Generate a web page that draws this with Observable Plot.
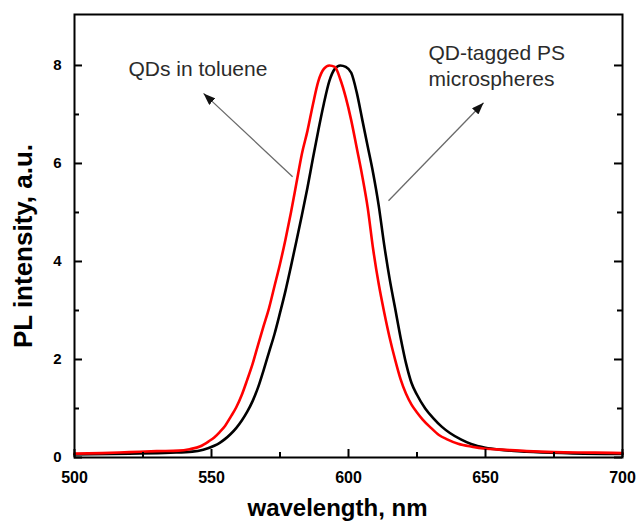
<!DOCTYPE html>
<html><head><meta charset="utf-8">
<script src="https://cdn.jsdelivr.net/npm/d3@7"></script>
<script src="https://cdn.jsdelivr.net/npm/@observablehq/plot@0.6"></script>
<style>body{margin:0;background:#fff;}</style>
</head><body><div id="chart"></div>
<script>
// Series: QDs in toluene (red)
const wlToluene = [500,510,520,530,538,542,546,549,551,553,555,557,559,561,563,565,567,569,571,573,575,577,579,581,583,585,587,589,591,593,595,597,599,601,603,605,607,609,611,613,615,617,619,621,623,625,627,630,633,636,640,645,650,656,665,675,690,700];
const plToluene = [0.08,0.09,0.11,0.13,0.14,0.17,0.23,0.33,0.41,0.52,0.65,0.83,1.02,1.27,1.58,1.91,2.3,2.68,3.05,3.5,3.95,4.45,5.0,5.6,6.2,6.66,7.2,7.68,7.93,8.0,7.97,7.72,7.35,6.88,6.32,5.75,5.1,4.25,3.55,2.97,2.45,2.0,1.6,1.3,1.08,0.92,0.78,0.61,0.46,0.37,0.28,0.22,0.18,0.16,0.13,0.11,0.1,0.09];
// Series: QD-tagged PS microspheres (black)
const wlSpheres = [500,520,535,543,547,551,553,555,557,559,561,563,565,567,569,571,573,575,577,579,581,583,585,587,589,591,593,595,597,599,601,603,605,607,609,611,613,615,617,619,621,623,625,628,631,634,637,641,645,650,655,665,680,700];
const plSpheres = [0.06,0.08,0.1,0.12,0.16,0.24,0.3,0.38,0.48,0.6,0.75,0.93,1.15,1.43,1.78,2.15,2.52,2.95,3.4,3.9,4.42,4.95,5.5,6.1,6.68,7.22,7.68,7.93,8.0,7.97,7.85,7.45,6.9,6.35,5.8,5.15,4.35,3.65,3.05,2.45,1.92,1.52,1.28,1.0,0.8,0.63,0.5,0.37,0.27,0.2,0.16,0.12,0.09,0.07];

const xMajorTicks = [500,550,600,650,700];
const xMinorTicks = [525,575,625,675];
const yMajorTicks = [0,2,4,6,8];
const yMinorTicks = [1,3,5,7];
const xTitle = "wavelength, nm";
const yTitle = "PL intensity, a.u.";
const labelToluene = "QDs in toluene";
const labelSpheres = "QD-tagged PS\nmicrospheres";

const toluene = wlToluene.map((w,i)=>({wl:w, pl:plToluene[i]}));
const spheres = wlSpheres.map((w,i)=>({wl:w, pl:plSpheres[i]}));

const annotations = [
  {x:519.7, y:7.78, text: labelToluene},
  {x:629.2, y:7.59, text: labelSpheres}
];
const arrows = [
  {x1:579.6, y1:5.73, x2:547.1, y2:7.43},
  {x1:614.6, y1:5.24, x2:649.3, y2:7.24}
];

// layout
const W = 636, H = 521, mL = 74, mR = 14, mT = 14, mB = 64;
const xDomain = [500, 700], yDomain = [0, 9.04];
// convert a tick length in pixels into data units along each axis
const pxX = (W - mL - mR) / (xDomain[1] - xDomain[0]);
const pxY = (H - mT - mB) / (yDomain[1] - yDomain[0]);
const lenX = px => px / pxX;
const lenY = px => px / pxY;
const tickStroke = {stroke:"#000", strokeWidth:2};

const svg = Plot.plot({
  width: W, height: H,
  marginLeft: mL, marginRight: mR, marginTop: mT, marginBottom: mB,
  style: {fontFamily: "'Liberation Sans', Arial, sans-serif", background: "#fff", color: "#000"},
  x: {domain: xDomain, axis: null},
  y: {domain: yDomain, axis: null},
  marks: [
    Plot.line(spheres, {x:"wl", y:"pl", stroke:"#000", strokeWidth:2.6, curve:"monotone-x"}),
    Plot.line(toluene, {x:"wl", y:"pl", stroke:"#ff0000", strokeWidth:2.6, curve:"monotone-x"}),
    Plot.frame({stroke:"#000", strokeWidth:2}),
    Plot.axisX(xMajorTicks, {anchor:"bottom", tickSize:0, tickPadding:14, fontSize:16, fontWeight:"bold", label:null}),
    Plot.axisY(yMajorTicks, {anchor:"left", tickSize:0, tickPadding:13, fontSize:15, fontWeight:"bold", label:null}),
    Plot.text([xTitle], {frameAnchor:"bottom", text:d=>d, dx:-11, dy:58, lineAnchor:"bottom", fontSize:24, fontWeight:"bold"}),
    Plot.text([yTitle], {frameAnchor:"left", text:d=>d, rotate:-90, textAnchor:"middle", lineAnchor:"middle", dx:-51, dy:10, fontSize:26, fontWeight:"bold"}),
    Plot.link(arrows, {x1:"x1", y1:"y1", x2:"x2", y2:"y2", stroke:"#6a6a6a", strokeWidth:1.3}),
    Plot.text(annotations, {x:"x", y:"y", text:"text", textAnchor:"start", lineAnchor:"bottom", fontSize:21, fill:"#2b2b2b", lineHeight:1.2}),
    // inward tick marks, drawn last
    Plot.ruleX(xMajorTicks, {x:d=>d, y1:yDomain[0], y2:yDomain[0]+lenY(8), ...tickStroke}),
    Plot.ruleX(xMinorTicks, {x:d=>d, y1:yDomain[0], y2:yDomain[0]+lenY(5), ...tickStroke}),
    Plot.ruleY(yMajorTicks, {y:d=>d, x1:xDomain[0], x2:xDomain[0]+lenX(8), ...tickStroke}),
    Plot.ruleY(yMinorTicks, {y:d=>d, x1:xDomain[0], x2:xDomain[0]+lenX(5), ...tickStroke}),
    Plot.ruleY(yMajorTicks, {y:d=>d, x1:xDomain[1]-lenX(8), x2:xDomain[1], ...tickStroke}),
    Plot.ruleY(yMinorTicks, {y:d=>d, x1:xDomain[1]-lenX(5), x2:xDomain[1], ...tickStroke})
  ]
});

const sel = d3.select(svg);
const defs = sel.append("defs");
defs.append("marker").attr("id","ah").attr("viewBox","0 0 12 9")
  .attr("refX",12).attr("refY",4.5).attr("markerWidth",12).attr("markerHeight",9)
  .attr("markerUnits","userSpaceOnUse").attr("orient","auto")
  .append("path").attr("d","M0,0L12,4.5L0,9Z").attr("fill","#111");
sel.selectAll('g[aria-label="link"] path').attr("marker-end","url(#ah)");

document.getElementById("chart").appendChild(svg);
</script>
</body></html>
